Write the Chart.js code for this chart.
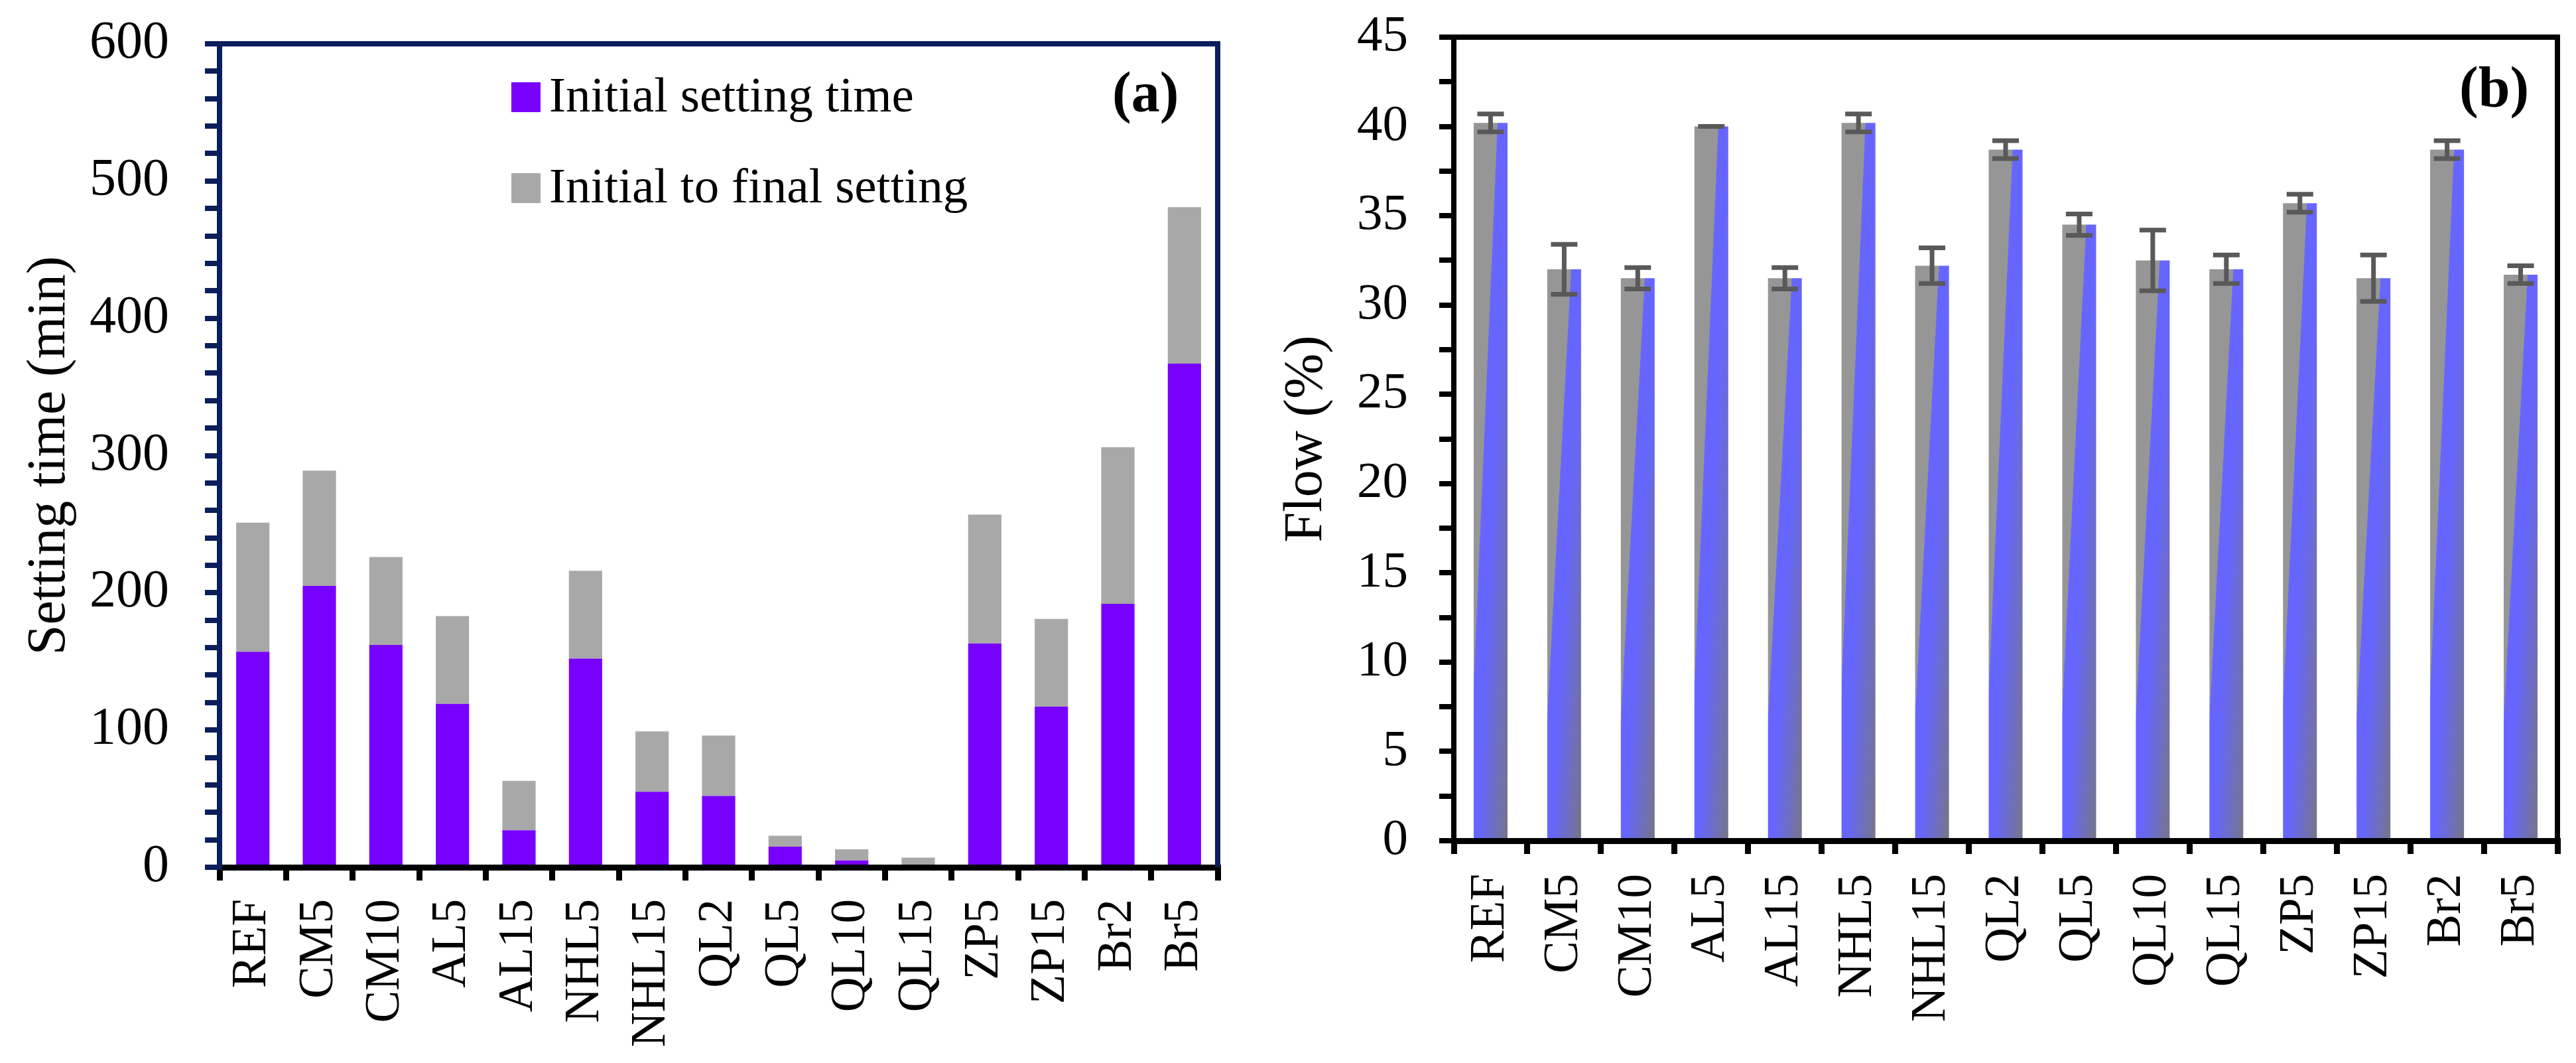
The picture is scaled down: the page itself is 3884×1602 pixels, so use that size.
<!DOCTYPE html>
<html>
<head>
<meta charset="utf-8">
<script src="https://cdn.jsdelivr.net/npm/chart.js@4.4.1/dist/chart.umd.min.js"></script>
<style>
  body { margin: 0; background: #fff; width: 3884px; height: 1602px; position: relative; overflow: hidden;
         font-family: 'Liberation Serif', 'Times New Roman', serif; }
  canvas { position: absolute; top: 0; }
  #chartA { left: 0; }
  #chartB { left: 1900px; }
  .lbl { position: absolute; line-height: 1; white-space: nowrap; color: #000; }
  .box { position: absolute; width: 44px; height: 45px; }
</style>
</head>
<body>
<canvas id="chartA" width="1942" height="1602"></canvas>
<canvas id="chartB" width="1984" height="1602"></canvas>

<div class="box" style="left:771px; top:124px; background:#7700ff;"></div>
<div class="lbl" style="left:828px; top:105px; font-size:75px;">Initial setting time</div>
<div class="box" style="left:771px; top:261px; background:#a8a8a8;"></div>
<div class="lbl" style="left:828px; top:242px; font-size:75px;">Initial to final setting</div>
<div class="lbl" style="left:1677px; top:96px; font-size:86px; font-weight:bold;">(a)</div>
<div class="lbl" style="left:3708px; top:88px; font-size:86px; font-weight:bold;">(b)</div>

<script>
// mixes
const labels = ['REF', 'CM5', 'CM10', 'AL5', 'AL15', 'NHL5', 'NHL15', 'QL2', 'QL5', 'QL10', 'QL15', 'ZP5', 'ZP15', 'Br2', 'Br5'];

// (a) setting time, min
const initialSetting = [157, 205, 162, 119, 27, 152, 55, 52, 15, 5, 0, 163, 117, 192, 367];
const initialToFinal = [94, 84, 64, 64, 36, 64, 44, 44, 8, 8, 7, 94, 64, 114, 114];

// (b) flow, %
const flowValues = [40.2, 32.0, 31.5, 40.0, 31.5, 40.2, 32.2, 38.7, 34.5, 32.5, 32.0, 35.7, 31.5, 38.7, 31.7];
const flowErr = [0.5, 1.4, 0.6, 0, 0.6, 0.5, 1.0, 0.5, 0.6, 1.7, 0.8, 0.5, 1.3, 0.5, 0.5];

const serif = "'Liberation Serif', 'Times New Roman', serif";
const navy = '#0b1e5b';
const flowBarRatio = 0.46;

Chart.defaults.font.family = serif;
Chart.defaults.color = '#000';

// top and right edges of the plot box
const framePlugin = {
    id: 'frame',
    afterDraw(chart, args, opts) {
        const {ctx, chartArea: a} = chart;
        ctx.save();
        ctx.strokeStyle = opts.color;
        ctx.lineWidth = opts.width;
        ctx.beginPath();
        ctx.moveTo(a.left - opts.width / 2, a.top);
        ctx.lineTo(a.right, a.top);
        ctx.lineTo(a.right, a.bottom);
        ctx.stroke();
        ctx.restore();
    }
};

const errorBarPlugin = {
    id: 'errorBars',
    afterDatasetsDraw(chart) {
        const {ctx} = chart;
        const y = chart.scales.y;
        const meta = chart.getDatasetMeta(0);
        ctx.save();
        ctx.strokeStyle = '#595959';
        ctx.lineWidth = 7;
        meta.data.forEach((bar, i) => {
            const hi = y.getPixelForValue(flowValues[i] + flowErr[i]);
            const lo = y.getPixelForValue(flowValues[i] - flowErr[i]);
            ctx.beginPath();
            ctx.moveTo(bar.x, hi);
            ctx.lineTo(bar.x, lo);
            ctx.moveTo(bar.x - 20, hi);
            ctx.lineTo(bar.x + 20, hi);
            ctx.moveTo(bar.x - 20, lo);
            ctx.lineTo(bar.x + 20, lo);
            ctx.stroke();
        });
        ctx.restore();
    }
};

// gray -> blue -> gray fill, tilted along each bar like the original
function flowFill(context) {
    const chart = context.chart;
    if (!chart.chartArea || context.type !== 'data') return '#969696';
    const xs = chart.scales.x, ys = chart.scales.y;
    const i = context.dataIndex;
    const w = xs.width / labels.length * flowBarRatio;
    const left = xs.getPixelForValue(i) - w / 2;
    const top = ys.getPixelForValue(flowValues[i]);
    const h = ys.getPixelForValue(0) - top;
    if (h <= 0) return '#969696';
    const p0x = left + 0.72 * w, p0y = top;
    const nx = h, ny = 0.9 * w;
    const k = 1.3 * w * h / (nx * nx + ny * ny);
    const vx = nx * k, vy = ny * k;
    const g = chart.ctx.createLinearGradient(p0x - vx, p0y - vy, p0x + vx, p0y + vy);
    g.addColorStop(0, '#969696');
    g.addColorStop(0.49, '#969696');
    g.addColorStop(0.5, '#6666ff');
    g.addColorStop(0.62, '#6666ff');
    g.addColorStop(1, '#787878');
    return g;
}

function yAxis(opts) {
    return {
        min: 0,
        max: opts.max,
        border: {color: opts.color, width: 8},
        grid: {drawOnChartArea: false, drawTicks: true, tickLength: 22, tickWidth: 8, lineWidth: 8, tickColor: opts.color},
        ticks: {
            stepSize: opts.step,
            maxTicksLimit: 100,
            autoSkip: false,
            padding: opts.pad,
            font: {size: opts.fontSize},
            callback: v => (v % opts.major === 0 ? v : '')
        },
        title: {display: true, text: opts.title, font: {size: 82}, padding: {top: opts.titlePad, bottom: 0}},
        afterFit: axis => {
            axis.width = opts.width;
            axis.paddingTop = 0;
            axis.paddingBottom = 0;
        }
    };
}

function xAxis(height, pad) {
    return {
        border: {color: '#000', width: 9},
        grid: {drawOnChartArea: false, drawTicks: true, tickLength: 20, tickWidth: 9, lineWidth: 9, tickColor: '#000'},
        ticks: {minRotation: 90, maxRotation: 90, autoSkip: false, padding: pad, font: {size: 73}},
        afterFit: axis => {
            axis.height = height;
            axis.paddingLeft = 0;
            axis.paddingRight = 0;
        }
    };
}

function chartSetting() {
    const ctx = document.getElementById('chartA').getContext('2d');
    new Chart(ctx, {
        type: 'bar',
        data: {
            labels: labels,
            datasets: [{
                label: 'Initial setting time',
                data: initialSetting,
                backgroundColor: '#7700ff',
                categoryPercentage: 0.5,
                barPercentage: 1
            }, {
                label: 'Initial to final setting',
                data: initialToFinal,
                backgroundColor: '#a8a8a8',
                categoryPercentage: 0.5,
                barPercentage: 1
            }]
        },
        options: {
            responsive: false,
            animation: false,
            devicePixelRatio: 1,
            layout: {padding: {left: 0, top: 66, right: 106, bottom: 0}},
            plugins: {legend: {display: false}, tooltip: {enabled: false}, frame: {color: navy, width: 8}},
            scales: {
                x: Object.assign(xAxis(295, 28), {stacked: true}),
                y: Object.assign(yAxis({max: 600, step: 20, major: 100, pad: 54, fontSize: 80, color: navy,
                    title: 'Setting time (min)', titlePad: 26, width: 331}), {stacked: true})
            }
        },
        plugins: [framePlugin]
    });
}

function chartFlow() {
    const ctx = document.getElementById('chartB').getContext('2d');
    new Chart(ctx, {
        type: 'bar',
        data: {
            labels: labels,
            datasets: [{
                label: 'Flow',
                data: flowValues,
                backgroundColor: flowFill,
                categoryPercentage: 1,
                barPercentage: flowBarRatio
            }]
        },
        options: {
            responsive: false,
            animation: false,
            devicePixelRatio: 1,
            layout: {padding: {left: 0, top: 56, right: 28, bottom: 0}},
            plugins: {legend: {display: false}, tooltip: {enabled: false}, frame: {color: '#000', width: 8}},
            scales: {
                x: xAxis(335, 30),
                y: yAxis({max: 45, step: 2.5, major: 5, pad: 47, fontSize: 77, color: '#000',
                    title: 'Flow (%)', titlePad: 21, width: 292})
            }
        },
        plugins: [framePlugin, errorBarPlugin]
    });
}

chartSetting();
chartFlow();
</script>
</body>
</html>
